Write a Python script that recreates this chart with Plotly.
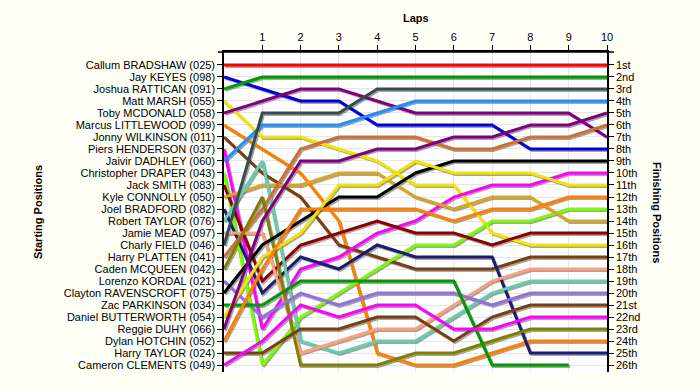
import plotly.graph_objects as go

laps = list(range(0, 11))
lap_ticks = list(range(1, 11))

drivers = [
    "Callum BRADSHAW (025)", "Jay KEYES (098)", "Joshua RATTICAN (091)", "Matt MARSH (055)",
    "Toby MCDONALD (058)", "Marcus LITTLEWOOD (099)", "Jonny WILKINSON (011)", "Piers HENDERSON (037)",
    "Jaivir DADHLEY (060)", "Christopher DRAPER (043)", "Jack SMITH (083)", "Kyle CONNOLLY (050)",
    "Joel BRADFORD (082)", "Robert TAYLOR (076)", "Jamie MEAD (097)", "Charly FIELD (046)",
    "Harry PLATTEN (041)", "Caden MCQUEEN (042)", "Lorenzo KORDAL (021)", "Clayton RAVENSCROFT (075)",
    "Zac PARKINSON (034)", "Daniel BUTTERWORTH (054)", "Reggie DUHY (066)", "Dylan HOTCHIN (052)",
    "Harry TAYLOR (024)", "Cameron CLEMENTS (049)",
]

colors = [
    "#FF0000", "#0000DD", "#009900", "#F2E600", "#800080", "#FF8000", "#7A3F0F", "#FF00FF",
    "#1E90FF", "#7CFC00", "#8B0000", "#DAA520", "#1C1C6E", "#66CDAA", "#FFA07A", "#2F4F4F",
    "#CD7032", "#808000", "#9370DB", "#000000", "#009900", "#F2E600", "#800080", "#FF8000",
    "#7A3F0F", "#FF00FF",
]

# position of each driver at lap 0..10
positions = [
    [1, 1, 1, 1, 1, 1, 1, 1, 1, 1, 1],
    [2, 3, 4, 4, 6, 6, 6, 6, 8, 8, 8],
    [3, 2, 2, 2, 2, 2, 2, 2, 2, 2, 2],
    [4, 7, 7, 8, 9, 11, 11, 15, 16, 16, 16],
    [5, 4, 3, 3, 4, 5, 5, 5, 5, 5, 7],
    [6, 8, 10, 14, 25, 26, 26, 25, 24, 24, 24],
    [7, 10, 12, 16, 17, 18, 18, 18, 17, 17, 17],
    [8, 23, 18, 17, 15, 14, 12, 11, 11, 10, 10],
    [9, 6, 6, 6, 5, 4, 4, 4, 4, 4, 4],
    [10, 26, 22, 20, 18, 16, 16, 14, 14, 13, 13],
    [11, 19, 16, 15, 14, 15, 15, 16, 15, 15, 15],
    [12, 11, 11, 10, 10, 12, 13, 12, 12, 14, 14],
    [13, 20, 17, 18, 16, 17, 17, 17, 25, 25, 25],
    [14, 9, 24, 25, 24, 24, 22, 20, 19, 19, 19],
    [15, 15, 25, 24, 23, 23, 21, 19, 18, 18, 18],
    [16, 5, 5, 5, 3, 3, 3, 3, 3, 3, 3],
    [17, 13, 8, 7, 7, 7, 8, 8, 7, 7, 6],
    [18, 12, 26, 26, 26, 25, 25, 24, 23, 23, 23],
    [19, 22, 20, 21, 20, 20, 20, 21, 20, 20, 20],
    [20, 16, 14, 12, 12, 10, 9, 9, 9, 9, 9],
    [21, 21, 19, 19, 19, 19, 19, 26, 26, 26],
    [22, 17, 15, 11, 11, 9, 10, 10, 10, 11, 11],
    [23, 14, 9, 9, 8, 8, 7, 7, 6, 6, 5],
    [24, 18, 13, 13, 13, 13, 14, 13, 13, 12, 12],
    [25, 25, 23, 23, 22, 22, 24, 22, 21, 21, 21],
    [26, 24, 21, 22, 21, 21, 23, 23, 22, 22, 22],
]

finish_labels = ["1st", "2nd", "3rd", "4th", "5th", "6th", "7th", "8th", "9th", "10th",
                 "11th", "12th", "13th", "14th", "15th", "16th", "17th", "18th", "19th", "20th",
                 "21st", "22nd", "23rd", "24th", "25th", "26th"]

slots = list(range(1, 27))

fig = go.Figure()

# shadows
for name, pos in zip(drivers, positions):
    xs = laps[:len(pos)]
    fig.add_trace(go.Scatter(
        x=[v + 0.035 for v in xs], y=[p + 0.12 for p in pos], mode="lines",
        line=dict(color="rgba(90,90,90,0.55)", width=3), hoverinfo="skip", showlegend=False))

for name, col, pos in zip(drivers, colors, positions):
    xs = laps[:len(pos)]
    fig.add_trace(go.Scatter(
        x=xs, y=pos, mode="lines", name=name,
        line=dict(color=col, width=3), showlegend=False))

# invisible trace for right axis
fig.add_trace(go.Scatter(x=[0], y=[1], yaxis="y2", mode="markers",
                         marker=dict(opacity=0), hoverinfo="skip", showlegend=False))

yr = [26.58, -0.08]
font = dict(family="Liberation Sans, Arial, sans-serif", size=11, color="#000000")

fig.update_layout(
    width=700, height=390,
    margin=dict(l=224, r=93, t=52, b=18),
    paper_bgcolor="#FFFFF5",
    plot_bgcolor="#FFFFFF",
    font=font,
    xaxis=dict(side="top", range=[0, 10], tickvals=lap_ticks, ticks="outside", ticklen=5,
               tickcolor="#000", showline=True, linecolor="#000", linewidth=1.5,
               showgrid=True, gridcolor="#E6E6E6", zeroline=False, tickfont=font,
               automargin=False),
    yaxis=dict(range=yr, tickvals=slots, ticktext=drivers, ticks="outside", ticklen=5,
               tickcolor="#000", showline=True, linecolor="#000", linewidth=1.5,
               showgrid=True, gridcolor="#E6E6E6", zeroline=False, tickfont=font,
               automargin=False),
    yaxis2=dict(range=yr, overlaying="y", side="right", tickvals=slots, ticktext=finish_labels,
                ticks="outside", ticklen=5, tickcolor="#000", showline=True, linecolor="#000",
                linewidth=1.5, showgrid=False, zeroline=False, tickfont=font,
                automargin=False),
    shapes=[
        dict(type="line", xref="paper", yref="paper", x0=-0.016, x1=1.018, y0=1, y1=1,
             line=dict(color="#000", width=1.5)),
    ],
    annotations=[
        dict(text="<b>Laps</b>", xref="paper", yref="paper", x=0.5, y=1, yshift=34,
             showarrow=False, font=font, yanchor="middle"),
        dict(text="<b>Starting Positions</b>", xref="paper", yref="paper", x=0, xshift=-194,
             y=0.5, showarrow=False, font=font, textangle=-90),
        dict(text="<b>Finishing Positions</b>", xref="paper", yref="paper", x=1, xshift=58,
             y=0.5, showarrow=False, font=font, textangle=90),
    ],
)

fig.write_html("out.html", config={"displayModeBar": False},
               post_script="document.body.style.margin='0';document.body.style.background='#FFFFF5';")
